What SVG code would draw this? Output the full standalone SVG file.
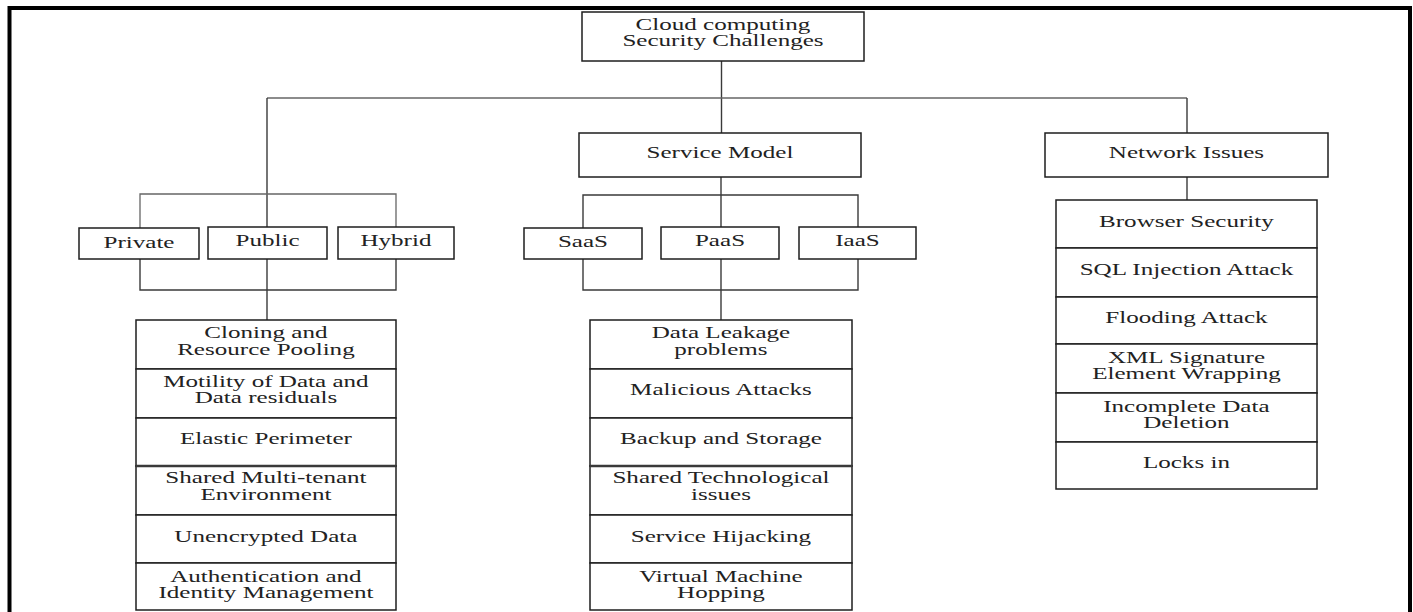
<svg xmlns="http://www.w3.org/2000/svg" width="1413" height="612" viewBox="0 0 1413 612">
<style>
.box{fill:#fff;stroke:#1e1e1e;stroke-width:1.5}
.t{font-family:"Liberation Serif","Times New Roman",serif;font-size:16.5px;fill:#222;text-anchor:middle;transform-box:fill-box;transform-origin:center;transform:scaleX(1.52)}
.c{fill:none;stroke:#3a3a3a;stroke-width:1.4}
.g{fill:none;stroke:#666;stroke-width:1.3}
.thick{stroke-width:2.4}
</style>
<rect x="0" y="0" width="1413" height="612" fill="#fff"/>
<rect id="frame" x="9.5" y="8" width="1400.5" height="640" fill="#fff" stroke="#000" stroke-width="4"/>

<g id="connectors">
  <path class="c" d="M721.5 61V133"/>
  <path class="g" d="M267 98H1187"/>
  <path class="c" d="M267 98V228"/>
  <path class="c" d="M1187 98V133"/>
  <path class="g" d="M140 228V194H396V228"/>
  <path class="c" d="M140 259V290H396V259"/>
  <path class="c" d="M267 259V320"/>
  <path class="c" d="M721 177V228"/>
  <path class="c" d="M583 228V195H858V228"/>
  <path class="c" d="M583 259V290H858V259"/>
  <path class="c" d="M721 259V320"/>
  <path class="c" d="M1187 177V200"/>
</g>

<g id="root">
  <rect class="box" x="582" y="12" width="282" height="49"/>
  <text class="t" x="723" y="30.5">Cloud computing</text>
  <text class="t" x="723" y="46.5">Security Challenges</text>
</g>
<g id="service-model">
  <rect class="box" x="579" y="133" width="282" height="44"/>
  <text class="t" x="720" y="158.5">Service Model</text>
</g>
<g id="network-issues">
  <rect class="box" x="1045" y="133" width="283" height="44"/>
  <text class="t" x="1186.5" y="158.5">Network Issues</text>
</g>

<g id="private">
  <rect class="box" x="79" y="228" width="120" height="31"/>
  <text class="t" x="139" y="248">Private</text>
</g>
<g id="public">
  <rect class="box" x="208" y="227" width="119" height="32"/>
  <text class="t" x="267.5" y="246">Public</text>
</g>
<g id="hybrid">
  <rect class="box" x="338" y="227" width="116" height="32"/>
  <text class="t" x="396" y="246">Hybrid</text>
</g>
<g id="saas">
  <rect class="box" x="524" y="228" width="118" height="31"/>
  <text class="t" x="583" y="247">SaaS</text>
</g>
<g id="paas">
  <rect class="box" x="661" y="227" width="118" height="32"/>
  <text class="t" x="720" y="246">PaaS</text>
</g>
<g id="iaas">
  <rect class="box" x="799" y="227" width="117" height="32"/>
  <text class="t" x="857.5" y="246">IaaS</text>
</g>

<g id="deployment-issues">
  <g id="cloning"><rect class="box" x="136" y="320" width="260" height="49"/>
    <text class="t" x="266" y="338">Cloning and</text><text class="t" x="266" y="355">Resource Pooling</text></g>
  <g id="motility"><rect class="box" x="136" y="369" width="260" height="49"/>
    <text class="t" x="266" y="387">Motility of Data and</text><text class="t" x="266" y="403">Data residuals</text></g>
  <g id="elastic"><rect class="box" x="136" y="418" width="260" height="48"/>
    <text class="t" x="266" y="444.5">Elastic Perimeter</text></g>
  <g id="multitenant"><rect class="box" x="136" y="466" width="260" height="49"/>
    <text class="t" x="266" y="483.5">Shared Multi-tenant</text><text class="t" x="266" y="500">Environment</text></g>
  <g id="unencrypted"><rect class="box" x="136" y="515" width="260" height="48"/>
    <text class="t" x="266" y="542">Unencrypted Data</text></g>
  <g id="authentication"><rect class="box" x="136" y="563" width="260" height="47"/>
    <text class="t" x="266" y="582">Authentication and</text><text class="t" x="266" y="598">Identity Management</text></g>
  <path class="c thick" d="M136 466H396"/>
</g>

<g id="service-issues">
  <g id="leakage"><rect class="box" x="590" y="320" width="262" height="49"/>
    <text class="t" x="721" y="338">Data Leakage</text><text class="t" x="721" y="355">problems</text></g>
  <g id="malicious"><rect class="box" x="590" y="369" width="262" height="49"/>
    <text class="t" x="721" y="395.5">Malicious Attacks</text></g>
  <g id="backup"><rect class="box" x="590" y="418" width="262" height="48"/>
    <text class="t" x="721" y="444.5">Backup and Storage</text></g>
  <g id="shared-tech"><rect class="box" x="590" y="466" width="262" height="49"/>
    <text class="t" x="721" y="483.5">Shared Technological</text><text class="t" x="721" y="500">issues</text></g>
  <g id="hijacking"><rect class="box" x="590" y="515" width="262" height="48"/>
    <text class="t" x="721" y="542">Service Hijacking</text></g>
  <g id="vm-hopping"><rect class="box" x="590" y="563" width="262" height="47"/>
    <text class="t" x="721" y="582">Virtual Machine</text><text class="t" x="721" y="598">Hopping</text></g>
  <path class="c thick" d="M590 466H852"/>
</g>

<g id="network-list">
  <g id="browser"><rect class="box" x="1056" y="200" width="261" height="48"/>
    <text class="t" x="1186.5" y="227">Browser Security</text></g>
  <g id="sql"><rect class="box" x="1056" y="248" width="261" height="49"/>
    <text class="t" x="1186.5" y="275">SQL Injection Attack</text></g>
  <g id="flooding"><rect class="box" x="1056" y="297" width="261" height="47"/>
    <text class="t" x="1186.5" y="323">Flooding Attack</text></g>
  <g id="xml"><rect class="box" x="1056" y="344" width="261" height="49"/>
    <text class="t" x="1186.5" y="363">XML Signature</text><text class="t" x="1186.5" y="379">Element Wrapping</text></g>
  <g id="deletion"><rect class="box" x="1056" y="393" width="261" height="49"/>
    <text class="t" x="1186.5" y="412">Incomplete Data</text><text class="t" x="1186.5" y="428">Deletion</text></g>
  <g id="locks"><rect class="box" x="1056" y="442" width="261" height="47"/>
    <text class="t" x="1186.5" y="468">Locks in</text></g>
</g>
</svg>
